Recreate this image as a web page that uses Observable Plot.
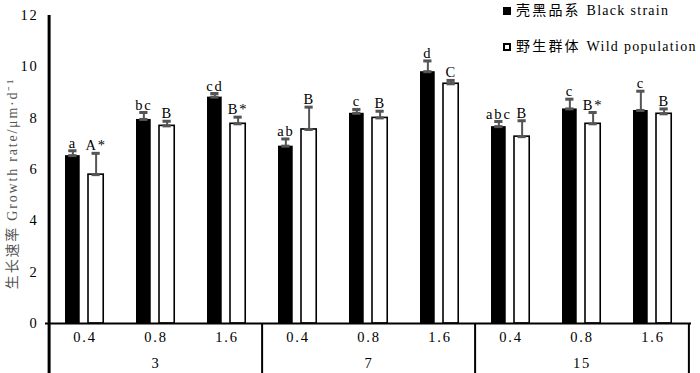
<!DOCTYPE html>
<html><head><meta charset="utf-8">
<script src="https://cdn.jsdelivr.net/npm/d3@7"></script>
<script src="https://cdn.jsdelivr.net/npm/@observablehq/plot@0.6"></script>
<style>
body{margin:0;background:#fff;}
#wrap{position:relative;width:700px;height:373px;}
.legend{position:absolute;left:503px;font-family:"Liberation Serif","Noto Sans CJK SC",serif;font-size:14px;letter-spacing:1.3px;color:#000;white-space:nowrap;}
.legend .zh{letter-spacing:2.2px;}
.sw{display:inline-block;width:8px;height:8px;margin-right:5px;box-sizing:border-box;vertical-align:0px;}
</style></head><body><div id="wrap"></div>
<script>
const groups = ["3","7","15"];
const concentrations = ["0.4","0.8","1.6"];
const seriesNames = ["壳黑品系 Black strain","野生群体 Wild population"];
const blackMean = [6.54,7.95,8.82, 6.91,8.19,9.81, 7.67,8.36,8.30];
const blackErr  = [0.19,0.27,0.14, 0.28,0.15,0.42, 0.20,0.38,0.75];
const blackLetters = ["a","bc","cd","ab","c","d","abc","c","c"];
const wildMean = [5.80,7.70,7.78, 7.56,8.01,9.34, 7.28,7.78,8.17];
const wildErr  = [0.83,0.18,0.26, 0.87,0.26,0.13, 0.62,0.44,0.19];
const wildLetters = ["A*","B","B*","B","B","C","B","B*","B"];
const yTicks = [0,2,4,6,8,10,12];
const yTitle = "生长速率 Growth rate/μm·d⁻¹";

const W = 700, H = 373, mL = 45, mR = 9, mT = 15, mB = 50;
const keys = [];
groups.forEach(g => concentrations.forEach(c => keys.push(g + "|" + c)));
const step = (W - mL - mR) / keys.length;

const rows = [];
keys.forEach((k, i) => {
  rows.push({key: k, s: 0, v: blackMean[i], e: blackErr[i], lab: blackLetters[i]});
  rows.push({key: k, s: 1, v: wildMean[i], e: wildErr[i], lab: wildLetters[i]});
});
const black = rows.filter(d => d.s === 0);
const wild = rows.filter(d => d.s === 1);

// bar placement inside each band (px)
const bL0 = 16, bR0 = 31.5, bL1 = 39, bR1 = 55;
const c0 = (bL0 + bR0) / 2 - step / 2, c1 = (bL1 + bR1) / 2 - step / 2;
const capHalf = 4.5;
const errColor = "#555";

function errMarks(data, c) {
  const center = step / 2 + c;
  return [
    Plot.ruleX(data, {x: "key", y1: "v", y2: d => d.v + d.e, dx: c, stroke: errColor, strokeWidth: 2}),
    Plot.tickY(data, {x: "key", y: d => d.v + d.e, insetLeft: center - capHalf, insetRight: step - center - capHalf, stroke: errColor, strokeWidth: 3}),
    Plot.tickY(data, {x: "key", y: "v", insetLeft: center - capHalf, insetRight: step - center - capHalf, stroke: errColor, strokeWidth: 3}),
    Plot.text(data, {x: "key", y: d => d.v + d.e, text: "lab", dx: c, dy: -3, lineAnchor: "bottom", fill: "#000", fontSize: 14.5})
  ];
}

const plot = Plot.plot({
  width: W, height: H,
  marginLeft: mL, marginRight: mR, marginTop: mT, marginBottom: mB,
  style: {fontFamily: '"Liberation Serif","Noto Sans CJK SC",serif', fontSize: "14px", letterSpacing: "1.8px", background: "#fff", color: "#000"},
  x: {type: "band", domain: keys, padding: 0, label: null},
  y: {domain: [0, 12], label: null},
  marks: [
    Plot.barY(black, {x: "key", y: "v", fill: "#000", insetLeft: bL0, insetRight: step - bR0}),
    Plot.barY(wild, {x: "key", y: "v", fill: "#fff", stroke: "#000", strokeWidth: 1.6, insetLeft: bL1, insetRight: step - bR1}),
    ...errMarks(black, c0),
    ...errMarks(wild, c1),
    Plot.ruleY([0], {stroke: "#000", strokeWidth: 2}),
    // y axis line
    Plot.ruleX([keys[0]], {x: d => d, dx: -step / 2, stroke: "#000", strokeWidth: 3, insetBottom: -mB}),
    // group dividers
    Plot.ruleX([keys[3], keys[6]], {x: d => d, dx: -step / 2, y1: 0, y2: 0, insetBottom: -mB, stroke: "#000", strokeWidth: 2}),
    Plot.ruleX([keys[8]], {x: d => d, dx: step / 2, y1: 0, y2: 0, insetBottom: -mB, stroke: "#000", strokeWidth: 2}),
    // y ticks (inward)
    Plot.tickY(yTicks, {x: keys[0], y: d => d, insetLeft: 0, insetRight: step - 5, stroke: "#000", strokeWidth: 2}),
    Plot.axisY({ticks: yTicks, tickSize: 0, tickPadding: 7, fontSize: 14.5, tickFormat: d => d}),
    Plot.axisX({tickSize: 0, tickPadding: 8, fontSize: 14.5, tickFormat: k => k.split("|")[1]}),
    Plot.text(groups, {x: g => g + "|" + concentrations[1], y: 0, text: d => d, dy: 40, fontSize: 14.5, lineAnchor: "middle"}),
    Plot.text([yTitle], {frameAnchor: "left", text: d => d, rotate: -90, dx: -33, dy: 14, fill: "#555", fontSize: 14, textAnchor: "middle", lineAnchor: "middle", letterSpacing: "0.6px"})
  ]
});
const wrap = document.getElementById("wrap");
wrap.appendChild(plot);
const legTop = [-1, 35];
seriesNames.forEach((n, i) => {
  const d = document.createElement("div");
  d.className = "legend";
  d.style.top = legTop[i] + "px";
  const sw = document.createElement("span");
  sw.className = "sw";
  sw.style.background = i === 0 ? "#000" : "#fff";
  sw.style.border = i === 0 ? "none" : "2px solid #000";
  d.appendChild(sw);
  const sp = n.indexOf(" ");
  const zh = document.createElement("span");
  zh.className = "zh";
  zh.textContent = n.slice(0, sp + 1);
  d.appendChild(zh);
  d.appendChild(document.createTextNode(n.slice(sp + 1)));
  wrap.appendChild(d);
});
</script></body></html>
